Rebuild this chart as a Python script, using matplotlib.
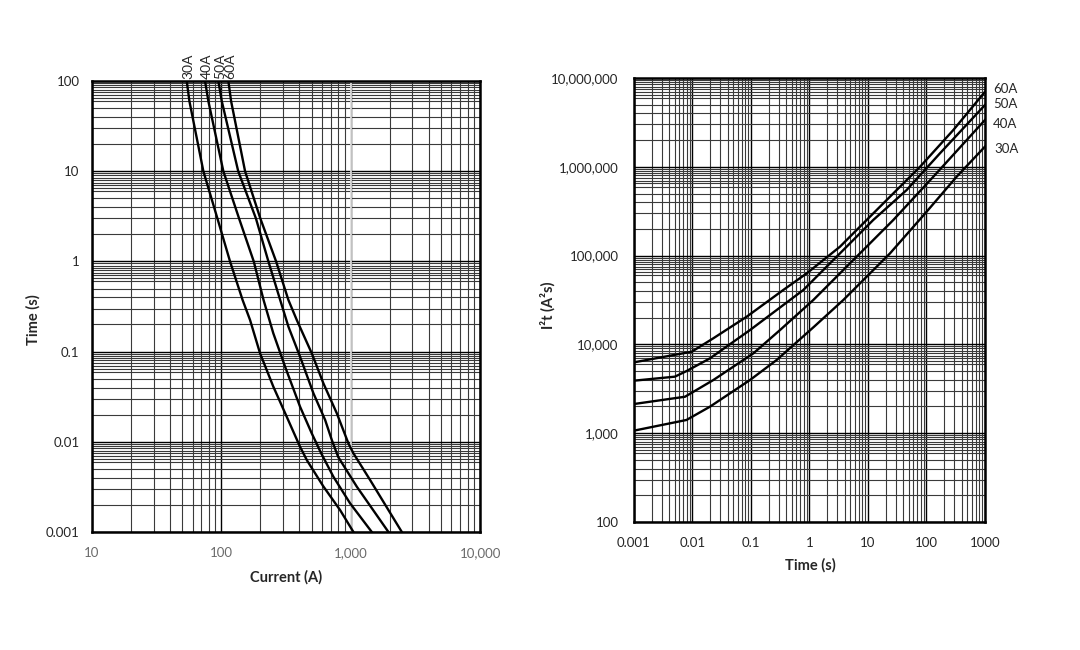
import matplotlib

matplotlib.use("Agg")
import matplotlib.pyplot as plt
from matplotlib.ticker import LogLocator, NullFormatter

plt.rcParams["font.family"] = ["Lato", "DejaVu Sans"]

# time-current curves (left): current in A, melting time in s
cur_30 = [54, 56.6, 72.6, 93.2, 116.7, 146, 166.7, 199, 252, 320, 406, 460, 615, 828, 1050]
time_30 = [100, 60, 10, 3.0, 1.0, 0.373, 0.224, 0.096, 0.041, 0.019, 0.0088, 0.0062, 0.0032, 0.00175, 0.001]
cur_40 = [74.8, 79.3, 103.6, 137, 178, 212, 252, 311, 406, 500, 590, 735, 989, 1456]
time_40 = [100, 60, 10, 3.0, 1.0, 0.373, 0.16, 0.068, 0.0245, 0.0124, 0.0075, 0.0041, 0.00208, 0.001]
cur_50 = [94.8, 100.7, 135, 185, 231, 285, 330, 406, 515, 634, 714, 800, 1115, 1958]
time_50 = [100, 60, 10, 3.0, 1.0, 0.373, 0.189, 0.0878, 0.0345, 0.0175, 0.0105, 0.0068, 0.00318, 0.001]
cur_60 = [113.3, 118.9, 152.5, 200, 265, 330, 383, 500, 615, 781, 960, 1050, 1413, 2485]
time_60 = [100, 60, 10, 3.0, 1.0, 0.373, 0.224, 0.0958, 0.0445, 0.0207, 0.0096, 0.00745, 0.00377, 0.001]

# I2t curves (right): time in s, I2t in A2s
t2_30 = [0.001, 0.0079, 0.0199, 0.096, 0.275, 1.2, 3.78, 23.8, 95, 328, 1000]
i2t_30 = [1069, 1410, 1990, 3970, 6680, 15850, 31600, 106000, 299000, 774000, 1.69e6]
t2_40 = [0.001, 0.00745, 0.0227, 0.11, 0.313, 1.16, 5.6, 27.1, 131, 1000]
i2t_40 = [2133, 2576, 3970, 7940, 14500, 31600, 89100, 252000, 774000, 3.37e6]
t2_50 = [0.001, 0.005, 0.0079, 0.0199, 0.096, 0.784, 3.32, 12.3, 45.8, 170, 1000]
i2t_50 = [3906, 4335, 5010, 6970, 14500, 41000, 106000, 252000, 548000, 1.42e6, 4.97e6]
t2_60 = [0.001, 0.0097, 0.0227, 0.0843, 0.356, 0.896, 3.32, 7.3, 23.8, 77.4, 288, 1000]
i2t_60 = [6285, 8280, 11720, 20500, 41000, 63100, 126000, 212000, 461000, 1.0e6, 2.6e6, 7.0e6]

ratings = ["30A", "40A", "50A", "60A"]

left_xticks = [10, 100, 1000, 10000]
left_xlabels = ["10", "100", "1,000", "10,000"]
left_yticks = [0.001, 0.01, 0.1, 1, 10, 100]
left_ylabels = ["0.001", "0.01", "0.1", "1", "10", "100"]
right_xticks = [0.001, 0.01, 0.1, 1, 10, 100, 1000]
right_xlabels = ["0.001", "0.01", "0.1", "1", "10", "100", "1000"]
right_yticks = [100, 1000, 10000, 100000, 1000000, 10000000]
right_ylabels = ["100", "1,000", "10,000", "100,000", "1,000,000", "10,000,000"]

X_SUBS = [2, 3, 4, 5, 6, 7, 8, 9]
Y_SUBS = [2, 3, 4, 5, 6, 6.5, 7, 7.5, 8, 8.5, 9, 9.5]


def log_grid(ax):
    ax.set_xscale("log")
    ax.set_yscale("log")
    ax.xaxis.set_minor_locator(LogLocator(base=10, subs=X_SUBS, numticks=100))
    ax.yaxis.set_minor_locator(LogLocator(base=10, subs=Y_SUBS, numticks=100))
    ax.xaxis.set_minor_formatter(NullFormatter())
    ax.yaxis.set_minor_formatter(NullFormatter())
    ax.grid(which="major", color="black", lw=1.0)
    ax.grid(which="minor", color="#3a3a3a", lw=0.8)
    ax.set_axisbelow(True)
    ax.tick_params(which="both", length=0, labelsize=9.5, colors="#262626")
    for sp in ax.spines.values():
        sp.set_linewidth(1.8)
        sp.set_color("black")


def main():
    fig = plt.figure(figsize=(10.8, 6.5), dpi=100)

    # left: time-current
    ax1 = fig.add_axes([0.0852, 0.1815, 0.3593, 0.6938])
    log_grid(ax1)
    ax1.set_xlim(10, 10000)
    ax1.set_ylim(0.001, 100)
    ax1.set_xticks(left_xticks, labels=left_xlabels)
    ax1.set_yticks(left_yticks, labels=left_ylabels)
    ax1.tick_params(axis="x", pad=11, labelcolor="#6b6b6b")
    ax1.tick_params(axis="y", pad=9)
    ax1.axvline(1000, color="#e8e8e8", lw=1.2, zorder=1)

    curves = [(cur_30, time_30), (cur_40, time_40), (cur_50, time_50), (cur_60, time_60)]
    for (xs, ys), name in zip(curves, ratings):
        ax1.plot(xs, ys, color="black", lw=1.7, zorder=3, solid_joinstyle="round")
        ax1.annotate(name, xy=(xs[0], 100), xytext=(1.5, 1.5), textcoords="offset points",
                     rotation=90, ha="center", va="bottom", fontsize=10,
                     color="#262626", annotation_clip=False)

    fig.text(0.2648, 0.1125, "Current (A)", ha="center", va="center",
             fontsize=10.5, fontweight="bold", color="#262626")
    fig.text(0.031, 0.508, "Time (s)", ha="center", va="center", rotation=90,
             fontsize=10.5, fontweight="bold", color="#262626")

    # right: I2t
    ax2 = fig.add_axes([0.587, 0.1969, 0.325, 0.683])
    log_grid(ax2)
    ax2.set_xlim(0.001, 1000)
    ax2.set_ylim(100, 1e7)
    ax2.set_xticks(right_xticks, labels=right_xlabels)
    ax2.set_yticks(right_yticks, labels=right_ylabels)
    ax2.tick_params(axis="x", pad=11)
    ax2.tick_params(axis="y", pad=11)

    curves2 = [(t2_30, i2t_30), (t2_40, i2t_40), (t2_50, i2t_50), (t2_60, i2t_60)]
    offsets = [(7, -2), (6, -3), (6, 1), (6, 2)]
    for (xs, ys), name, off in zip(curves2, ratings, offsets):
        ax2.plot(xs, ys, color="black", lw=1.7, zorder=3, solid_joinstyle="round")
        ax2.annotate(name, xy=(xs[-1], ys[-1]), xytext=off, textcoords="offset points",
                     ha="left", va="center", fontsize=9.5, color="#262626",
                     annotation_clip=False)

    fig.text(0.75, 0.131, "Time (s)", ha="center", va="center",
             fontsize=10.5, fontweight="bold", color="#262626")
    fig.text(0.507, 0.53, "I²t (A²s)", ha="center", va="center", rotation=90,
             fontsize=10.5, fontweight="bold", color="#262626")

    fig.savefig("out.png", dpi=100, facecolor="white")
    plt.close(fig)


if __name__ == "__main__":
    main()
